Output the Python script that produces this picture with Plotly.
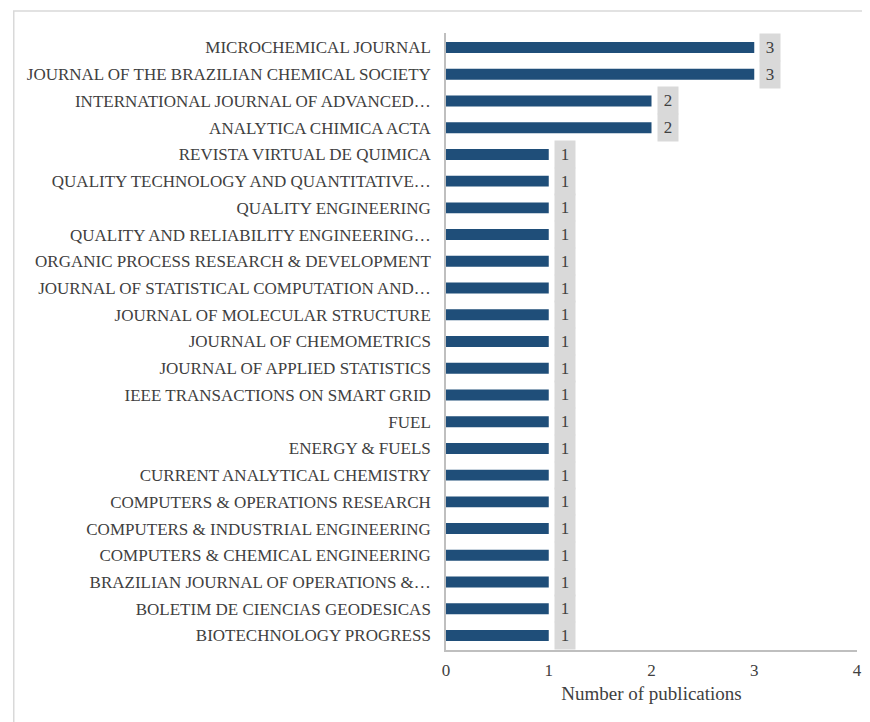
import plotly.graph_objects as go

journals = [
    "MICROCHEMICAL JOURNAL",
    "JOURNAL OF THE BRAZILIAN CHEMICAL SOCIETY",
    "INTERNATIONAL JOURNAL OF ADVANCED…",
    "ANALYTICA CHIMICA ACTA",
    "REVISTA VIRTUAL DE QUIMICA",
    "QUALITY TECHNOLOGY AND QUANTITATIVE…",
    "QUALITY ENGINEERING",
    "QUALITY AND RELIABILITY ENGINEERING…",
    "ORGANIC PROCESS RESEARCH & DEVELOPMENT",
    "JOURNAL OF STATISTICAL COMPUTATION AND…",
    "JOURNAL OF MOLECULAR STRUCTURE",
    "JOURNAL OF CHEMOMETRICS",
    "JOURNAL OF APPLIED STATISTICS",
    "IEEE TRANSACTIONS ON SMART GRID",
    "FUEL",
    "ENERGY & FUELS",
    "CURRENT ANALYTICAL CHEMISTRY",
    "COMPUTERS & OPERATIONS RESEARCH",
    "COMPUTERS & INDUSTRIAL ENGINEERING",
    "COMPUTERS & CHEMICAL ENGINEERING",
    "BRAZILIAN JOURNAL OF OPERATIONS &…",
    "BOLETIM DE CIENCIAS GEODESICAS",
    "BIOTECHNOLOGY PROGRESS",
]
publications = [3, 3, 2, 2] + [1] * 19
x_ticks = [0, 1, 2, 3, 4]

FONT = "Liberation Serif"
# page body has ~8px margin; figure is sized to fill the rest of the window
W, H = 862, 714
ML, MR, MT, MB = 438, 8, 25, 72
pw = W - ML - MR
ph = H - MT - MB

fig = go.Figure(go.Bar(
    x=publications, y=journals, orientation="h",
    marker=dict(color="#1F4E79", line=dict(width=0)),
    hoverinfo="x+y",
))

for j, v in zip(journals, publications):
    fig.add_annotation(
        x=v, y=j, xref="x", yref="y", text=str(v), showarrow=False,
        xanchor="left", xshift=5, width=18, height=25,
        bgcolor="#D9D9D9", font=dict(family=FONT, size=17, color="#404040"),
    )

fig.add_shape(
    type="rect", xref="paper", yref="paper",
    x0=(0.5 - ML) / pw, x1=1.2, y0=-0.3, y1=1 + (MT - 3) / ph,
    line=dict(color="#D9D9D9", width=1.5), fillcolor="rgba(0,0,0,0)", layer="below",
)

fig.update_layout(
    width=W, height=H,
    margin=dict(l=ML, r=MR, t=MT, b=MB),
    paper_bgcolor="white", plot_bgcolor="white",
    bargap=0.59, showlegend=False,
    font=dict(family=FONT, size=17, color="#404040"),
    xaxis=dict(
        range=[0, 4], tickvals=x_ticks, ticktext=[str(t) for t in x_ticks],
        showgrid=False, zeroline=False, showline=True, linecolor="#BFBFBF", linewidth=1.5,
        ticks="", ticklabelstandoff=4,
        title=dict(text="Number of publications", font=dict(family=FONT, size=19, color="#404040"), standoff=8),
    ),
    yaxis=dict(
        categoryorder="array", categoryarray=journals, autorange="reversed",
        showgrid=False, zeroline=False, showline=True, linecolor="#BFBFBF", linewidth=1.5,
        ticks="", ticklabelstandoff=10, range=[len(journals) - 0.5, -0.5],
    ),
)

fig.write_html("out.html")
